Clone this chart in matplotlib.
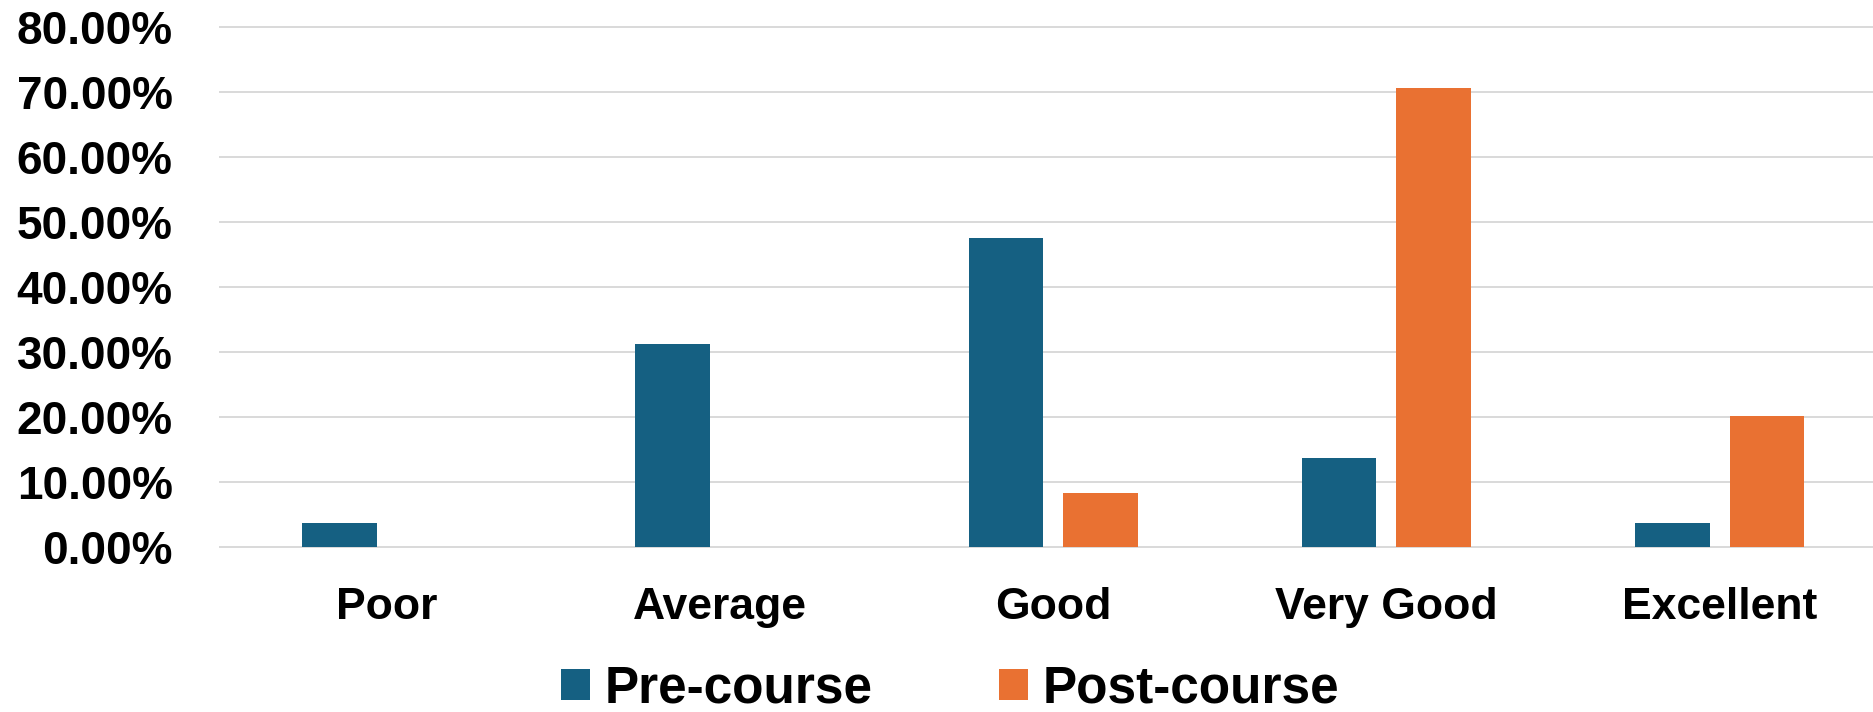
"""Pre- vs post-course self-rating bar chart."""

import matplotlib
matplotlib.use('Agg')
import matplotlib.pyplot as plt
from matplotlib.ticker import FuncFormatter, MultipleLocator
import numpy as np


CATEGORIES = ['Poor', 'Average', 'Good', 'Very Good', 'Excellent']
PRE_COURSE = [0.037, 0.312, 0.476, 0.137, 0.037]
POST_COURSE = [0.0, 0.0, 0.083, 0.706, 0.202]
SERIES_LABELS = ['Pre-course', 'Post-course']

BLUE = '#156082'
ORANGE = '#E97132'
GRID = '#D9D9D9'

plt.rcParams['font.family'] = ['Liberation Sans', 'DejaVu Sans']
plt.rcParams['font.weight'] = 'bold'

fig = plt.figure(figsize=(18.73, 7.12), dpi=100)
ax = fig.add_axes([220 / 1873, 165 / 712, 1 - 220 / 1873, 520 / 712])

x = np.arange(len(CATEGORIES))
width = 0.224
offset = 0.142
ax.bar(x - offset, PRE_COURSE, width, color=BLUE, label=SERIES_LABELS[0],
       zorder=3)
ax.bar(x + offset, POST_COURSE, width, color=ORANGE, label=SERIES_LABELS[1],
       zorder=3)

ax.set_xlim(-0.5, 4.46)
ax.set_ylim(0, 0.8)
ax.yaxis.set_major_locator(MultipleLocator(0.1))
ax.yaxis.set_major_formatter(FuncFormatter(lambda v, _: f'{v * 100:.2f}%'))
ax.set_xticks(x)
ax.set_xticklabels(CATEGORIES)

ax.grid(axis='y', color=GRID, linewidth=1.4, zorder=0)
for line in ax.get_ygridlines():
    line.set_clip_on(False)
for spine in ax.spines.values():
    spine.set_visible(False)
ax.tick_params(axis='both', length=0)
ax.tick_params(axis='y', pad=34, labelsize=33)
ax.tick_params(axis='x', pad=29, labelsize=32)

fig.legend(
    loc='center',
    bbox_to_anchor=(950 / 1873, 1 - 689 / 712),
    ncol=2,
    frameon=False,
    fontsize=37,
    handlelength=0.57,
    handleheight=0.57,
    handletextpad=0.28,
    columnspacing=2.45,
    borderpad=0.1,
)

fig.savefig('out.png', dpi=100)
